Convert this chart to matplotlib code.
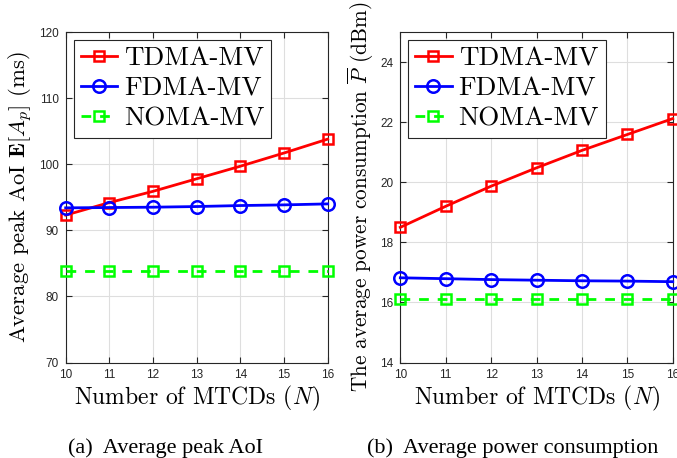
import numpy as np
import matplotlib
matplotlib.use("Agg")
import matplotlib.pyplot as plt

plt.rcParams["mathtext.fontset"] = "cm"
plt.rcParams["font.family"] = ["Liberation Sans", "DejaVu Sans"]

# data
n_mtcd = [10, 11, 12, 13, 14, 15, 16]

aoi_tdma = [92.3, 94.2, 95.9, 97.8, 99.7, 101.7, 103.8]
aoi_fdma = [93.4, 93.45, 93.5, 93.6, 93.75, 93.85, 94.0]
aoi_noma = [83.9, 83.9, 83.9, 83.9, 83.9, 83.9, 83.9]

pow_tdma = [18.5, 19.2, 19.87, 20.48, 21.06, 21.59, 22.12]
pow_fdma = [16.82, 16.79, 16.76, 16.74, 16.72, 16.71, 16.69]
pow_noma = [16.13, 16.13, 16.13, 16.13, 16.13, 16.13, 16.13]

labels = ["TDMA-MV", "FDMA-MV", "NOMA-MV"]
aoi_ticks = [70, 80, 90, 100, 110, 120]
pow_ticks = [14, 16, 18, 20, 22, 24]

fig = plt.figure(figsize=(6.77, 4.58), dpi=100)
ax1 = fig.add_axes([0.097, 0.2085, 0.387, 0.7215])
ax2 = fig.add_axes([0.5913, 0.2085, 0.4024, 0.7215])

xlab_font = dict(family="cmr10", size=17)


def draw(ax, tdma, fdma, noma):
    ax.plot(n_mtcd, tdma, color="red", lw=2, marker="s", ms=7.5, mfc="none",
            mew=1.8, label=labels[0], clip_on=False, zorder=3)
    ax.plot(n_mtcd, fdma, color="blue", lw=2, marker="o", ms=9, mfc="none",
            mew=1.8, label=labels[1], clip_on=False, zorder=3)
    ax.plot(n_mtcd, noma, color="#00ff00", lw=2, ls="--", dashes=(3.5, 3.2),
            marker="s", ms=7.5, mfc="none", mew=1.8, label=labels[2],
            clip_on=False, zorder=3)
    ax.set_xlim(10, 16)
    ax.set_xticks(n_mtcd)
    ax.grid(True, color="#dedede", lw=0.8)
    ax.set_axisbelow(True)
    ax.tick_params(direction="in", top=True, right=True, length=4,
                   labelsize=8.5, colors="#262626", pad=5)
    for s in ax.spines.values():
        s.set_color("#262626")
        s.set_linewidth(0.8)
    ax.set_xlabel(r"Number of MTCDs $(N)$", fontdict=xlab_font, labelpad=2)
    leg = ax.legend(loc="upper left", prop=dict(family="cmr10", size=19.5),
                    handlelength=1.35, handletextpad=0.25, borderpad=0.25,
                    labelspacing=0.22, borderaxespad=0.3, fancybox=False,
                    edgecolor="#262626", framealpha=1)
    leg.get_frame().set_linewidth(0.8)


draw(ax1, aoi_tdma, aoi_fdma, aoi_noma)
ax1.set_ylim(70, 120)
ax1.set_yticks(aoi_ticks)
ax1.set_ylabel(r"Average peak AoI $\mathbf{E}[A_p]$ (ms)",
               fontdict=dict(family="cmr10", size=16.3), labelpad=3)

draw(ax2, pow_tdma, pow_fdma, pow_noma)
ax2.set_ylim(14, 25)
ax2.set_yticks(pow_ticks)
ax2.set_ylabel(r"The average power consumption $\overline{P}$ (dBm)",
               fontdict=dict(family="cmr10", size=15.3), labelpad=3)

fig.text(0.2445, 0.012, "(a)  Average peak AoI", ha="center", va="baseline",
         family="Liberation Serif", size=16)
fig.text(0.757, 0.012, "(b)  Average power consumption", ha="center",
         va="baseline", family="Liberation Serif", size=16)

fig.savefig("out.png", dpi=100)
